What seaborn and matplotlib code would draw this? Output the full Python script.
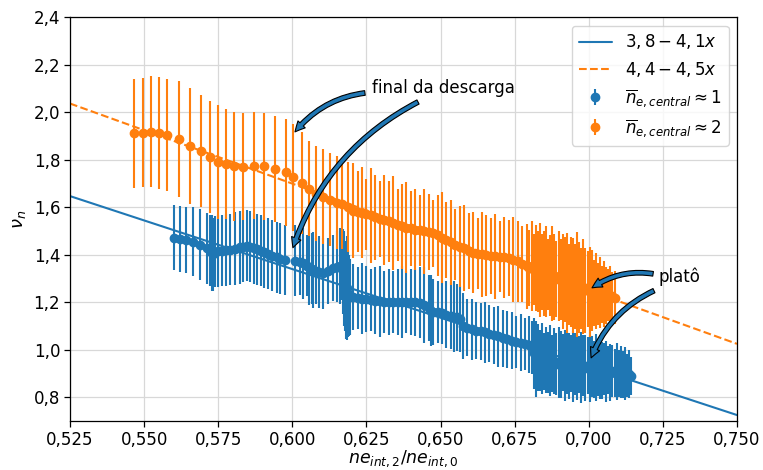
import numpy as np
import matplotlib
matplotlib.use("Agg")
import matplotlib.pyplot as plt
from matplotlib.ticker import FuncFormatter, MultipleLocator
import seaborn as sns

# ---------------- data ----------------
# ne_central ~ 2 (orange)
orange_x_a = [0.5467, 0.5497, 0.5523, 0.5550, 0.5578, 0.5617, 0.5655, 0.5693, 0.5721, 0.5749,
              0.5776, 0.5803, 0.5833, 0.5871, 0.5906, 0.5942, 0.5978, 0.6001, 0.6032, 0.6056,
              0.6080, 0.6104, 0.6126, 0.6150, 0.6169, 0.6189]
orange_y_a = [1.912, 1.915, 1.919, 1.914, 1.904, 1.888, 1.859, 1.838, 1.814, 1.793,
              1.783, 1.773, 1.772, 1.775, 1.773, 1.762, 1.748, 1.727, 1.704, 1.678,
              1.657, 1.645, 1.632, 1.620, 1.615, 1.603]
orange_e_a = [0.230, 0.230, 0.235, 0.235, 0.235, 0.245, 0.245, 0.235, 0.236, 0.240,
              0.230, 0.230, 0.225, 0.225, 0.225, 0.225, 0.225, 0.225, 0.215, 0.200,
              0.200, 0.200, 0.195, 0.195, 0.190, 0.190]

orange_x_b = [0.6205, 0.6220, 0.6235, 0.6250, 0.6265, 0.6280, 0.6295, 0.6310, 0.6325, 0.6340,
              0.6355, 0.6370, 0.6385, 0.6400, 0.6415, 0.6430, 0.6445, 0.6460, 0.6475, 0.6490,
              0.6505, 0.6520, 0.6535, 0.6550, 0.6565, 0.6580, 0.6595, 0.6610, 0.6625, 0.6640,
              0.6655, 0.6670, 0.6685, 0.6700, 0.6715, 0.6730, 0.6745, 0.6760, 0.6775, 0.6790]
orange_y_b = [1.586, 1.582, 1.578, 1.571, 1.566, 1.558, 1.552, 1.548, 1.541, 1.534,
              1.526, 1.520, 1.515, 1.511, 1.506, 1.503, 1.499, 1.495, 1.490, 1.482,
              1.473, 1.463, 1.452, 1.442, 1.434, 1.428, 1.418, 1.409, 1.405, 1.402,
              1.398, 1.396, 1.394, 1.392, 1.389, 1.386, 1.380, 1.372, 1.362, 1.352]
orange_e_b = [0.20, 0.17, 0.19, 0.15, 0.20, 0.18, 0.16, 0.19, 0.17, 0.20,
              0.15, 0.18, 0.19, 0.16, 0.17, 0.15, 0.18, 0.16, 0.14, 0.17,
              0.19, 0.16, 0.18, 0.15, 0.17, 0.18, 0.16, 0.17, 0.15, 0.18,
              0.17, 0.16, 0.18, 0.15, 0.17, 0.16, 0.18, 0.17, 0.16, 0.18]

orange_x_c = [0.6800, 0.6807, 0.6814, 0.6821, 0.6828, 0.6835, 0.6842, 0.6849, 0.6856, 0.6863,
              0.6870, 0.6877, 0.6884, 0.6891, 0.6898, 0.6905, 0.6912, 0.6919, 0.6926, 0.6933,
              0.6940, 0.6947, 0.6954, 0.6961, 0.6968, 0.6975, 0.6982, 0.6989, 0.6996, 0.7003,
              0.7010, 0.7017, 0.7024, 0.7031, 0.7038, 0.7045, 0.7052, 0.7059, 0.7066, 0.7073,
              0.7080, 0.7087]
orange_y_c = [1.345, 1.352, 1.338, 1.344, 1.330, 1.336, 1.328, 1.322, 1.330, 1.318,
              1.312, 1.320, 1.306, 1.300, 1.310, 1.296, 1.288, 1.295, 1.282, 1.276,
              1.285, 1.270, 1.266, 1.275, 1.262, 1.258, 1.266, 1.250, 1.255, 1.244,
              1.250, 1.240, 1.246, 1.236, 1.242, 1.232, 1.236, 1.228, 1.232, 1.224,
              1.228, 1.220]
orange_e_c = [0.16, 0.19, 0.15, 0.18, 0.17, 0.20, 0.16, 0.18, 0.19, 0.15,
              0.17, 0.20, 0.18, 0.16, 0.19, 0.17, 0.20, 0.18, 0.21, 0.17,
              0.19, 0.20, 0.18, 0.22, 0.19, 0.17, 0.20, 0.18, 0.16, 0.19,
              0.17, 0.14, 0.16, 0.13, 0.15, 0.12, 0.14, 0.12, 0.11, 0.13,
              0.10, 0.11]

# ne_central ~ 1 (blue)
blue_x_a = [0.5602, 0.5621, 0.5641, 0.5664, 0.5689, 0.5711, 0.5722, 0.5728, 0.5733, 0.5739,
            0.5750, 0.5762, 0.5776, 0.5790, 0.5807, 0.5824, 0.5835, 0.5846, 0.5858, 0.5870,
            0.5880, 0.5893, 0.5906, 0.5918, 0.5932, 0.5947, 0.5960, 0.5975]
blue_y_a = [1.473, 1.467, 1.463, 1.456, 1.442, 1.428, 1.418, 1.407, 1.402, 1.414,
            1.416, 1.418, 1.420, 1.421, 1.426, 1.431, 1.435, 1.438, 1.434, 1.428,
            1.424, 1.418, 1.410, 1.404, 1.397, 1.390, 1.384, 1.379]
blue_e_a = [0.137, 0.140, 0.140, 0.145, 0.150, 0.150, 0.150, 0.160, 0.155, 0.150,
            0.150, 0.150, 0.150, 0.150, 0.155, 0.155, 0.150, 0.150, 0.150, 0.150,
            0.150, 0.150, 0.150, 0.150, 0.150, 0.150, 0.150, 0.147]

blue_x_b = [0.6009, 0.6025, 0.6037, 0.6050, 0.6058, 0.6065, 0.6071, 0.6080, 0.6090, 0.6105,
            0.6120, 0.6138, 0.6150, 0.6160, 0.6167, 0.6172, 0.6175, 0.6178, 0.6181, 0.6183,
            0.6187, 0.6191, 0.6195]
blue_y_b = [1.375, 1.370, 1.365, 1.355, 1.348, 1.342, 1.337, 1.332, 1.328, 1.323,
            1.333, 1.344, 1.350, 1.352, 1.351, 1.330, 1.300, 1.270, 1.245, 1.260,
            1.235, 1.228, 1.224]
blue_e_b = [0.15, 0.14, 0.15, 0.13, 0.16, 0.15, 0.16, 0.14, 0.15, 0.15,
            0.14, 0.14, 0.15, 0.16, 0.14, 0.18, 0.20, 0.19, 0.20, 0.22,
            0.18, 0.17, 0.16]

blue_x_c = [0.6205, 0.6220, 0.6235, 0.6250, 0.6265, 0.6280, 0.6295, 0.6310, 0.6325, 0.6340,
            0.6355, 0.6370, 0.6385, 0.6400, 0.6415, 0.6430, 0.6445, 0.6460, 0.6468, 0.6476,
            0.6490, 0.6505, 0.6520, 0.6535, 0.6545, 0.6555, 0.6565, 0.6575, 0.6590, 0.6605,
            0.6620, 0.6635, 0.6650, 0.6665, 0.6680, 0.6695, 0.6710, 0.6725, 0.6740, 0.6755,
            0.6770, 0.6785, 0.6800]
blue_y_c = [1.222, 1.219, 1.216, 1.213, 1.210, 1.207, 1.204, 1.202, 1.201, 1.201,
            1.201, 1.201, 1.201, 1.201, 1.200, 1.198, 1.190, 1.175, 1.165, 1.160,
            1.158, 1.153, 1.148, 1.144, 1.140, 1.136, 1.130, 1.100, 1.092, 1.086,
            1.081, 1.077, 1.073, 1.068, 1.062, 1.056, 1.049, 1.044, 1.038, 1.033,
            1.029, 1.025, 1.021]
blue_e_c = [0.14, 0.13, 0.15, 0.14, 0.13, 0.14, 0.15, 0.13, 0.14, 0.13,
            0.14, 0.15, 0.13, 0.14, 0.14, 0.15, 0.16, 0.14, 0.15, 0.14,
            0.13, 0.13, 0.14, 0.14, 0.15, 0.14, 0.14, 0.14, 0.12, 0.13,
            0.12, 0.12, 0.13, 0.12, 0.12, 0.13, 0.12, 0.12, 0.12, 0.11,
            0.12, 0.11, 0.12]

blue_x_d = [0.6807, 0.6814, 0.6821, 0.6828, 0.6835, 0.6842, 0.6849, 0.6856, 0.6863, 0.6870,
            0.6877, 0.6884, 0.6891, 0.6898, 0.6905, 0.6912, 0.6919, 0.6926, 0.6933, 0.6940,
            0.6947, 0.6954, 0.6961, 0.6968, 0.6975, 0.6982, 0.6989, 0.6996, 0.7003, 0.7010,
            0.7017, 0.7024, 0.7031, 0.7038, 0.7045, 0.7052, 0.7059, 0.7066, 0.7073, 0.7080,
            0.7087, 0.7094, 0.7101, 0.7108, 0.7115, 0.7122, 0.7129, 0.7136, 0.7143]
blue_y_d = [1.010, 0.985, 0.960, 0.968, 0.955, 0.962, 0.950, 0.958, 0.946, 0.955,
            0.944, 0.952, 0.940, 0.948, 0.938, 0.946, 0.935, 0.944, 0.932, 0.942,
            0.930, 0.940, 0.928, 0.936, 0.926, 0.934, 0.924, 0.932, 0.922, 0.930,
            0.918, 0.926, 0.915, 0.922, 0.912, 0.918, 0.908, 0.915, 0.905, 0.912,
            0.902, 0.908, 0.899, 0.905, 0.896, 0.900, 0.893, 0.897, 0.891]
blue_e_d = [0.11, 0.15, 0.16, 0.14, 0.13, 0.15, 0.12, 0.14, 0.13, 0.15,
            0.12, 0.14, 0.13, 0.15, 0.14, 0.12, 0.15, 0.13, 0.14, 0.12,
            0.15, 0.13, 0.14, 0.12, 0.15, 0.13, 0.14, 0.12, 0.14, 0.13,
            0.12, 0.14, 0.11, 0.13, 0.12, 0.11, 0.13, 0.10, 0.12, 0.11,
            0.10, 0.12, 0.10, 0.11, 0.10, 0.11, 0.09, 0.10, 0.08]

# linear fits: intercept, slope
blue_fit = (3.8, -4.1)
orange_fit = (4.4, -4.5)
x_limits = (0.525, 0.750)
y_limits = (0.70, 2.40)

legend_labels = [r"$3,8-4,1x$", r"$4,4-4,5x$",
                 r"$\overline{n}_{e,central}\approx1$", r"$\overline{n}_{e,central}\approx2$"]

BLUE = "#1f77b4"
ORANGE = "#ff7f0e"

# ---------------- figure ----------------
sns.set_theme(style="ticks", palette="tab10",
              rc={"axes.grid": True, "grid.color": "#d8d8d8",
                  "grid.linewidth": 0.9, "axes.edgecolor": "black",
                  "axes.linewidth": 0.9, "text.color": "black",
                  "axes.labelcolor": "black", "xtick.color": "black",
                  "ytick.color": "black"})
plt.rcParams["font.family"] = ["DejaVu Sans"]
plt.rcParams["mathtext.fontset"] = "dejavusans"

fig = plt.figure(figsize=(7.63, 4.70), dpi=100)
ax = fig.add_axes([0.0917, 0.1043, 0.8742, 0.8585])

ox = np.array(orange_x_a + orange_x_b + orange_x_c)
oy = np.array(orange_y_a + orange_y_b + orange_y_c)
oe = np.array(orange_e_a + orange_e_b + orange_e_c)
bx = np.array(blue_x_a + blue_x_b + blue_x_c + blue_x_d)
by = np.array(blue_y_a + blue_y_b + blue_y_c + blue_y_d)
be = np.array(blue_e_a + blue_e_b + blue_e_c + blue_e_d)

ax.errorbar(bx, by, yerr=be, fmt="o", color=BLUE, ms=6,
            elinewidth=1.5, capsize=0, label=legend_labels[2])
ax.errorbar(ox, oy, yerr=oe, fmt="o", color=ORANGE, ms=6,
            elinewidth=1.5, capsize=0, label=legend_labels[3])

fit_x = np.array(x_limits)
sns.lineplot(x=fit_x, y=blue_fit[0] + blue_fit[1] * fit_x, ax=ax, color=BLUE,
             linewidth=1.5, label=legend_labels[0])
sns.lineplot(x=fit_x, y=orange_fit[0] + orange_fit[1] * fit_x, ax=ax, color=ORANGE,
             linewidth=1.5, linestyle="--", label=legend_labels[1])

ax.set_xlim(*x_limits)
ax.set_ylim(*y_limits)
ax.xaxis.set_major_locator(MultipleLocator(0.025))
ax.yaxis.set_major_locator(MultipleLocator(0.2))
ax.xaxis.set_major_formatter(FuncFormatter(lambda v, p: f"{v:.3f}".replace(".", ",")))
ax.yaxis.set_major_formatter(FuncFormatter(lambda v, p: f"{v:.1f}".replace(".", ",")))
ax.tick_params(axis="both", labelsize=12, length=4, width=0.9, direction="out", pad=3)
ax.set_xlabel(r"$ne_{int,2}/ne_{int,0}$", fontsize=12.5, labelpad=0)
ax.set_ylabel(r"$\nu_n$", fontsize=13, labelpad=4)

handles, labels = ax.get_legend_handles_labels()
order = [labels.index(l) for l in legend_labels]
ax.legend([handles[i] for i in order], [labels[i] for i in order],
          loc="upper right", fontsize=12, frameon=True)

arrow_kw = dict(arrowstyle="simple,head_width=0.6,head_length=0.6,tail_width=0.28",
                fc=BLUE, ec="black", lw=0.8, shrinkA=0, shrinkB=0,
                connectionstyle="arc3,rad=0.2", mutation_scale=12)

ax.text(0.6269, 2.105, "final da descarga", fontsize=12, va="center", ha="left")
ax.annotate("", xy=(0.6009, 1.918), xytext=(0.6245, 2.082), arrowprops=arrow_kw)
ax.annotate("", xy=(0.6002, 1.430), xytext=(0.6424, 2.044), arrowprops=arrow_kw)

ax.text(0.7234, 1.307, "platô", fontsize=12, va="center", ha="left")
ax.annotate("", xy=(0.7011, 1.261), xytext=(0.7217, 1.320), arrowprops=arrow_kw)
ax.annotate("", xy=(0.7008, 0.966), xytext=(0.7220, 1.249), arrowprops=arrow_kw)

fig.savefig("out.png", dpi=100)
